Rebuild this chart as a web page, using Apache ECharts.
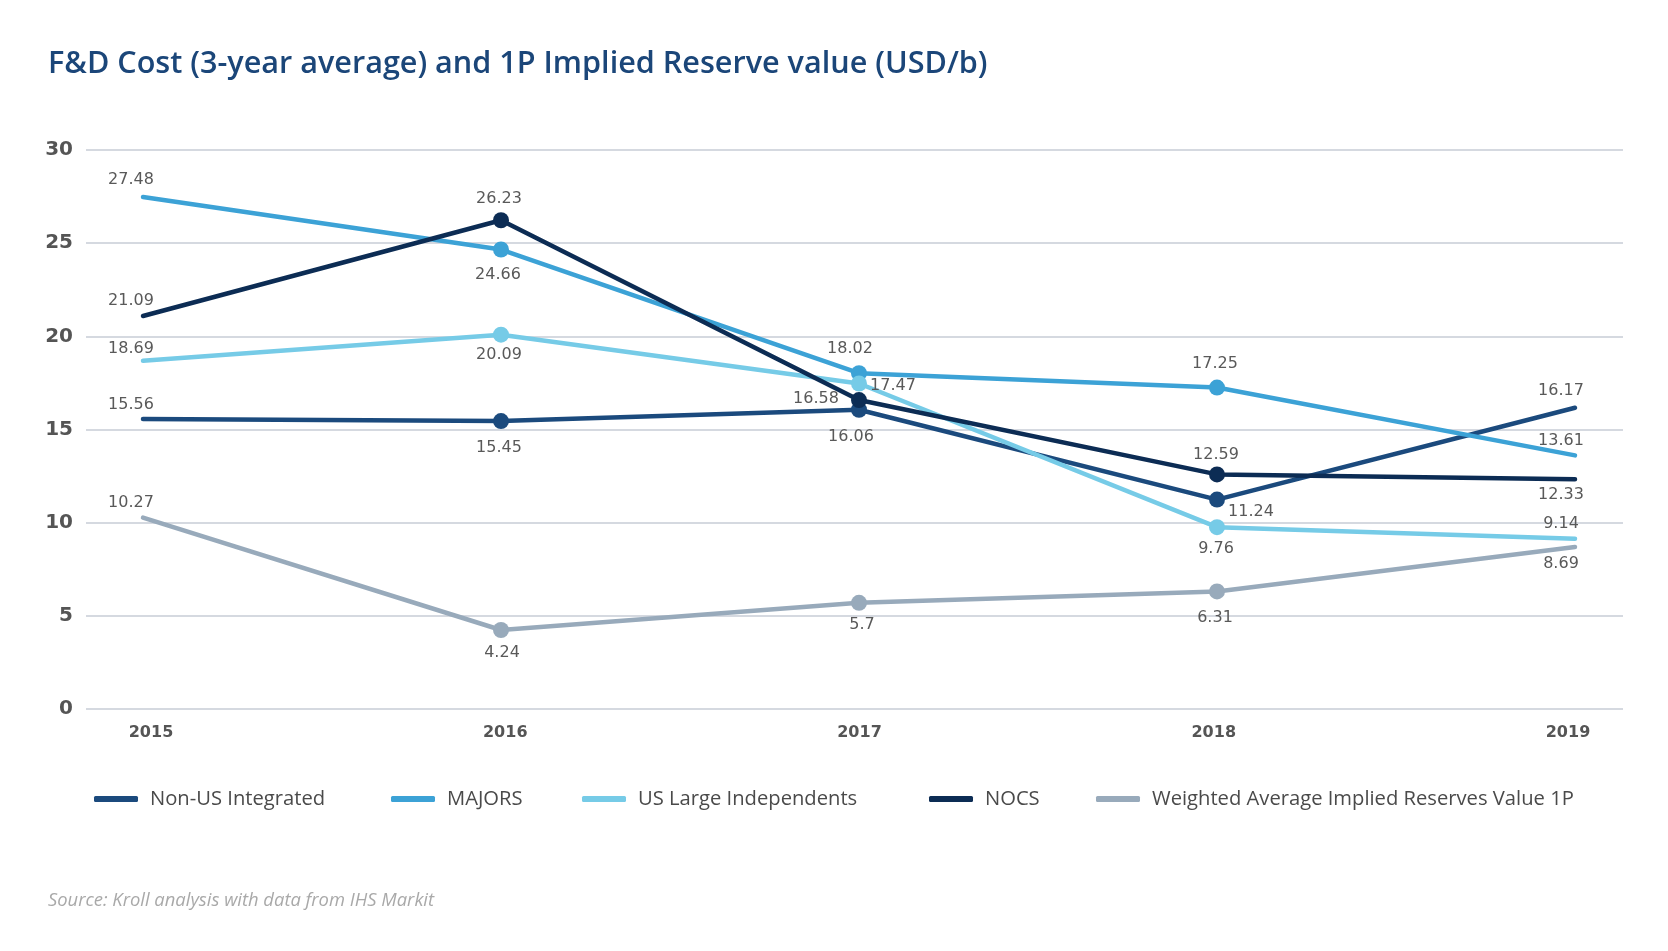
<!DOCTYPE html>
<html>
<head>
<meta charset="utf-8">
<title>F&amp;D Cost and 1P Implied Reserve value</title>
<script src="https://cdn.jsdelivr.net/npm/echarts@6/dist/echarts.min.js"></script>
<style>
  html, body { margin: 0; padding: 0; background: #fff; }
  #chart { width: 1668px; height: 951px; }
</style>
</head>
<body>
<div id="chart"></div>
<script>
// 数据
var years = ["2015", "2016", "2017", "2018", "2019"];
var yTicks = [0, 5, 10, 15, 20, 25, 30];
var nonUsIntegrated = [15.56, 15.45, 16.06, 11.24, 16.17];
var majors = [27.48, 24.66, 18.02, 17.25, 13.61];
var usLargeIndependents = [18.69, 20.09, 17.47, 9.76, 9.14];
var nocs = [21.09, 26.23, 16.58, 12.59, 12.33];
var weightedAvg = [10.27, 4.24, 5.7, 6.31, 8.69];

// 数值标签相对数据点的偏移 (px)
var labelOffsets = {
  "Non-US Integrated": [[-12, -14], [-2, 27], [-8, 27], [34, 12], [-14, -17]],
  "MAJORS": [[-12, -17], [-3, 25], [-9, -24], [-2, -24], [-14, -15]],
  "US Large Independents": [[-12, -12], [-2, 20], [34, 2], [-1, 22], [-14, -15]],
  "NOCS": [[-12, -15], [-2, -21], [-43, -1], [-1, -20], [-14, 16]],
  "Weighted Average Implied Reserves Value 1P": [[-12, -15], [1, 23], [3, 22], [-2, 26], [-14, 17]]
};
// 图例各项的左侧位置 (px)
var legendLefts = [94, 391, 582, 929, 1096];

var seriesDefs = [
  { name: "Non-US Integrated", data: nonUsIntegrated, color: "#1b4a7d" },
  { name: "MAJORS", data: majors, color: "#3ca2d6" },
  { name: "US Large Independents", data: usLargeIndependents, color: "#76cbe7" },
  { name: "NOCS", data: nocs, color: "#0c2c54" },
  { name: "Weighted Average Implied Reserves Value 1P", data: weightedAvg, color: "#98aabb" }
];

var chart = echarts.init(document.getElementById("chart"));

var series = seriesDefs.map(function (s) {
  return {
    name: s.name,
    type: "line",
    xAxisIndex: 1,
    yAxisIndex: 1,
    color: s.color,
    symbol: "circle",
    symbolSize: function (v, p) {
      return (p.dataIndex === 0 || p.dataIndex === years.length - 1) ? 0 : 16;
    },
    lineStyle: { width: 4.5, color: s.color, cap: "round" },
    itemStyle: { color: s.color },
    z: 3,
    data: s.data.map(function (v, i) {
      return {
        value: v,
        label: {
          show: true,
          position: "inside",
          offset: labelOffsets[s.name][i],
          color: "#595959",
          fontFamily: "DejaVu Sans",
          fontSize: 16
        }
      };
    })
  };
});

var legends = seriesDefs.map(function (s, i) {
  return {
    left: legendLefts[i],
    top: 789,
    padding: 0,
    itemWidth: 44,
    itemHeight: 6,
    icon: "roundRect",
    textStyle: { fontFamily: "Open Sans", fontSize: 20.2, color: "#4a4a4a", padding: [0, 0, 0, 7] },
    data: [s.name]
  };
});

var option = {
  animation: false,
  backgroundColor: "#fff",
  title: [
    {
      text: "F&D Cost (3-year average) and 1P Implied Reserve value (USD/b)",
      left: 43,
      top: 44,
      textStyle: { fontFamily: "Open Sans", fontWeight: 600, fontSize: 30.6, color: "#1b4679" }
    },
    {
      text: "Source: Kroll analysis with data from IHS Markit",
      left: 43,
      top: 887,
      textStyle: { fontFamily: "Open Sans", fontStyle: "italic", fontWeight: 400, fontSize: 18.4, color: "#a9a9a9" }
    }
  ],
  legend: legends,
  grid: [
    { left: 86, right: 45, top: 150, bottom: 242 },
    { left: 143, right: 93, top: 150, bottom: 242 },
    { left: 151, right: 100, top: 150, bottom: 242 }
  ],
  xAxis: [
    { gridIndex: 0, type: "value", show: false, min: 0, max: 1 },
    {
      gridIndex: 1,
      type: "category",
      data: years,
      boundaryGap: false,
      show: false
    },
    {
      gridIndex: 2,
      type: "category",
      data: years,
      boundaryGap: false,
      axisLine: { show: false },
      axisTick: { show: false },
      axisLabel: {
        margin: 16,
        fontFamily: "DejaVu Sans",
        fontWeight: "bold",
        fontSize: 16,
        color: "#555"
      }
    }
  ],
  yAxis: [
    {
      gridIndex: 0,
      type: "value",
      min: yTicks[0],
      max: yTicks[yTicks.length - 1],
      interval: 5,
      axisLine: { show: false },
      axisTick: { show: false },
      splitLine: { lineStyle: { color: "#c7cdd6", width: 1.5 } },
      axisLabel: {
        margin: 13,
        fontFamily: "DejaVu Sans",
        fontWeight: "bold",
        fontSize: 20,
        color: "#555"
      }
    },
    {
      gridIndex: 1,
      type: "value",
      min: yTicks[0],
      max: yTicks[yTicks.length - 1],
      interval: 5,
      show: false,
      splitLine: { show: false }
    },
    {
      gridIndex: 2,
      type: "value",
      min: yTicks[0],
      max: yTicks[yTicks.length - 1],
      interval: 5,
      show: false,
      splitLine: { show: false }
    }
  ],
  series: series
};

chart.setOption(option);
</script>
</body>
</html>
